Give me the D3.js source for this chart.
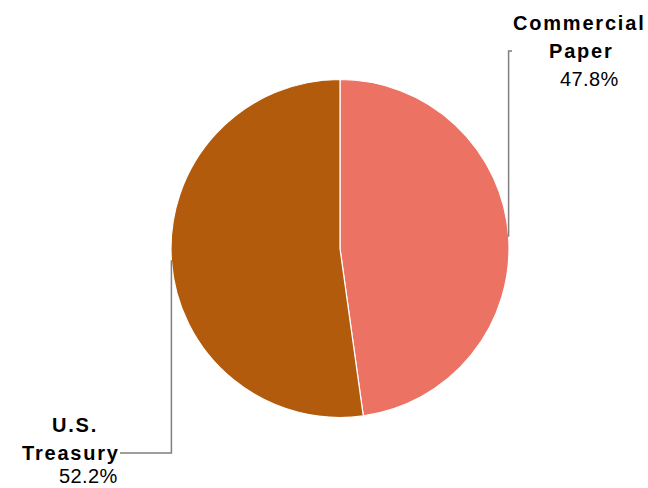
<!DOCTYPE html>
<html><head><meta charset="utf-8">
<script src="https://cdn.jsdelivr.net/npm/d3@7"></script>
<style>body{margin:0;background:#fff;} svg{display:block;}</style>
</head><body>
<svg id="chart" width="648" height="488"></svg>
<script>
const categories = ["Commercial Paper", "U.S. Treasury"];
const values = [47.8, 52.2];
const labelLines = [["Commercial", "Paper"], ["U.S.", "Treasury"]];
const pctLabels = ["47.8%", "52.2%"];
const colors = ["#EC7264", "#B35B0D"];

const svg = d3.select("#chart");
const cx = 340, cy = 248.5, r = 169;
const g = svg.append("g").attr("transform", `translate(${cx},${cy})`);

const pie = d3.pie().sort(null).value(d => d)(values);
const arc = d3.arc().innerRadius(0).outerRadius(r);

g.selectAll("path.slice").data(pie).join("path")
  .attr("class", "slice")
  .attr("d", arc)
  .attr("fill", (d, i) => colors[i])
  .attr("stroke", "#fff").attr("stroke-width", 1.2);

// leader lines & labels layout (left edges / baselines)
const layout = [
  { endY: 51, endX: 512, textX: [513, 549], lineY: [30, 58], pctX: 560, pctY: 86 },
  { endY: 453, endX: 120, textX: [52, 22], lineY: [432, 460], pctX: 59, pctY: 483 }
];

pie.forEach((d, i) => {
  const mid = (d.startAngle + d.endAngle) / 2;
  const sx = cx + r * Math.sin(mid), sy = cy - r * Math.cos(mid);
  const L = layout[i];
  svg.append("path")
    .attr("d", `M${sx},${sy}V${L.endY}H${L.endX}`)
    .attr("fill", "none").attr("stroke", "#7f7f7f").attr("stroke-width", 1.5);
  labelLines[i].forEach((t, j) => {
    svg.append("text").attr("x", L.textX[j]).attr("y", L.lineY[j])
      .attr("text-anchor", "start")
      .attr("font-family", "Liberation Sans, Arial, sans-serif")
      .attr("font-size", 20).attr("font-weight", "bold")
      .attr("letter-spacing", 1.8).attr("fill", "#000")
      .text(t);
  });
  svg.append("text").attr("x", L.pctX).attr("y", L.pctY)
    .attr("text-anchor", "start")
    .attr("font-family", "Liberation Sans, Arial, sans-serif")
    .attr("font-size", 20).attr("letter-spacing", 0.4).attr("fill", "#000")
    .text(pctLabels[i]);
});
</script>
</body></html>
